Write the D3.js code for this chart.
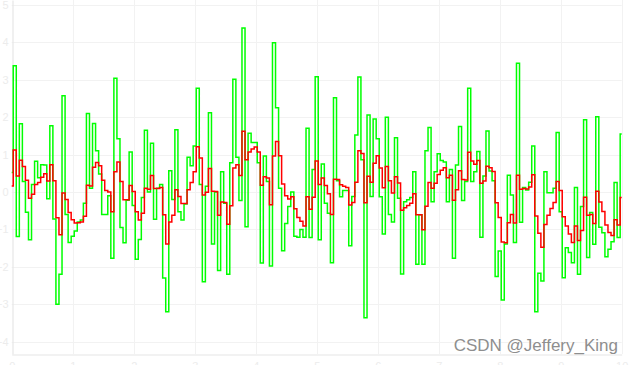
<!DOCTYPE html>
<html>
<head>
<meta charset="utf-8">
<script src="https://cdn.jsdelivr.net/npm/d3@7"></script>
<style>
  html, body { margin: 0; padding: 0; background: #ffffff; overflow: hidden; }
  svg { display: block; }
</style>
</head>
<body>
<svg id="chart" width="633" height="365"></svg>
<script>
// ---- data ----
const sampleStep = 0.05;           // x spacing of samples
const xTicks = [0, 1, 2, 3, 4, 5, 6, 7, 8, 9, 10];
const yTicks = [-4, -3, -2, -1, 0, 1, 2, 3, 4, 5];

// raw measurements (green step line)
const measured = [
  0.52, 3.37, -1.19, 1.82, 0.28, -0.54, -1.28, 0.2, 0.82, 0.38,
  0.73, 0.72, -0.18, 1.77, -0.72, -3.0, -2.2, 2.57, -0.6, -1.35,
  -1.18, -1.04, -0.8, -0.75, -0.3, 2.1, 0.1, 1.83, 1.1, 0.48,
  -0.6, -0.6, -0.1, -1.77, 3.04, 1.42, -0.95, -1.36, -0.22, 1.07,
  -0.36, -1.8, -1.27, -0.15, 1.65, 0.0, 1.3, -0.73, 0.1, 0.2,
  -2.3, -3.2, 0.57, -0.2, 1.66, -0.53, -0.75, -0.32, 0.93, 0.7,
  1.23, 2.77, 0.2, -2.4, 0.15, 2.12, -1.39, 0.0, -2.1, 0.54,
  -0.3, -2.2, 0.78, 3.01, 0.93, -0.23, 4.38, -0.93, 1.57, 1.32,
  1.32, 0.78, -1.9, 0.96, 0.28, -1.98, 3.99, 2.25, 0.1, -1.57,
  -0.84, -0.39, 0.0, -1.18, -1.21, -1.0, -1.21, 1.7, -1.22, 0.6,
  3.08, -1.28, 0.75, -0.3, -0.57, -1.89, 2.52, 0.3, -0.13, 0.04,
  0.04, -1.44, -0.12, 1.52, 3.07, 0.86, -3.36, 2.06, -0.12, 1.95,
  1.42, -0.13, -1.12, 2.0, -0.6, -0.8, 1.45, -0.17, -2.19, -0.26,
  -0.21, -0.15, 0.54, -1.93, -0.61, -1.93, 1.1, 1.72, -0.26, 0.54,
  1.02, 0.84, 0.8, -0.26, 0.6, -1.77, 0.72, 1.75, -0.23, 0.28,
  2.77, 0.28, 0.54, 1.08, -1.21, 0.43, 1.63, 0.56, 0.3, -2.26,
  -1.58, -2.89, -1.39, 0.45, -0.08, -1.35, 3.44, -0.81, 0.12, 0.05,
  0.26, 1.23, -3.2, -2.17, -2.38, 0.54, -0.02, -0.02, 0.1, 1.59,
  -0.53, -2.29, -1.49, -1.62, -1.89, 0.12, -2.2, -0.39, 1.93, -1.75,
  -0.55, -1.4, 2.01, -0.94, -1.09, -1.73, -1.53, -1.33, 0.25, -1.22,
  1.55
];

// filtered estimate (red step line)
const filtered = [
  0.16, 1.12, 0.43, 0.85, 0.68, 0.31, -0.17, -0.06, 0.20, 0.25,
  0.39, 0.49, 0.29, 0.73, 0.30, -0.69, -1.14, -0.03, -0.20, -0.55,
  -0.74, -0.83, -0.82, -0.80, -0.65, 0.18, 0.16, 0.66, 0.79, 0.70,
  0.31, 0.04, 0.00, -0.53, 0.54, 0.80, 0.28, -0.21, -0.21, 0.17,
  0.01, -0.53, -0.75, -0.57, 0.10, 0.07, 0.44, 0.09, 0.09, 0.12,
  -0.61, -1.39, -0.80, -0.62, 0.06, -0.12, -0.31, -0.31, 0.06, 0.25,
  0.54, 1.21, 0.91, -0.08, -0.01, 0.63, 0.02, 0.01, -0.62, -0.27,
  -0.28, -0.86, -0.37, 0.64, 0.73, 0.44, 1.62, 0.86, 1.07, 1.15,
  1.20, 1.07, 0.18, 0.41, 0.37, -0.34, 0.96, 1.35, 0.97, 0.21,
  -0.10, -0.19, -0.13, -0.45, -0.68, -0.78, -0.91, -0.13, -0.46, -0.14,
  0.83, 0.20, 0.37, 0.17, -0.05, -0.60, 0.34, 0.33, 0.19, 0.15,
  0.12, -0.35, -0.28, 0.26, 1.10, 1.03, -0.29, 0.42, 0.26, 0.77,
  0.97, 0.64, 0.11, 0.68, 0.30, -0.03, 0.41, 0.24, -0.49, -0.42,
  -0.36, -0.30, -0.05, -0.61, -0.61, -1.01, -0.38, 0.25, 0.10, 0.23,
  0.47, 0.58, 0.65, 0.38, 0.45, -0.22, 0.06, 0.57, 0.33, 0.32,
  1.06, 0.83, 0.74, 0.84, 0.23, 0.29, 0.69, 0.65, 0.55, -0.29,
  -0.68, -1.34, -1.36, -0.82, -0.60, -0.83, 0.45, 0.07, 0.09, 0.08,
  0.13, 0.46, -0.64, -1.10, -1.48, -0.87, -0.62, -0.44, -0.28, 0.28,
  0.04, -0.66, -0.91, -1.12, -1.35, -0.91, -1.30, -1.03, -0.14, -0.62,
  -0.60, -0.84, 0.02, -0.27, -0.52, -0.88, -1.08, -1.16, -0.74, -0.88,
  -0.15
];

const watermark = "CSDN @Jeffery_King";

// ---- layout ----
const W = 633, H = 365;
const plot = { left: 11.7, right: 621.7, top: 0, bottom: 354 };

const svg = d3.select("#chart");

const x = d3.scaleLinear().domain([0, 10]).range([plot.left, plot.right]);
const y = d3.scaleLinear().domain([-4.33, 5.13]).range([plot.bottom, plot.top]);

// grid
const grid = svg.append("g").attr("class", "grid");
grid.selectAll("line.h").data(yTicks).enter().append("line")
  .attr("x1", plot.left).attr("x2", plot.right)
  .attr("y1", d => Math.round(y(d)) + 0.5).attr("y2", d => Math.round(y(d)) + 0.5)
  .attr("stroke", "#f2f2f2").attr("stroke-width", 1);
grid.selectAll("line.v").data(xTicks.filter(d => d > 0)).enter().append("line")
  .attr("y1", plot.top).attr("y2", plot.bottom)
  .attr("x1", d => Math.round(x(d)) + 0.5).attr("x2", d => Math.round(x(d)) + 0.5)
  .attr("stroke", "#f2f2f2").attr("stroke-width", 1);

// axes
const yAxis = d3.axisLeft(y).tickValues(yTicks).tickSize(0).tickPadding(4).tickFormat(d3.format("d"));
const xAxis = d3.axisBottom(x).tickValues(xTicks).tickSize(0).tickPadding(8).tickFormat(d3.format("d"));

const gy = svg.append("g").attr("transform", `translate(${Math.round(plot.left) + 0.5},0)`).call(yAxis);
const gx = svg.append("g").attr("transform", `translate(0,${plot.bottom + 0.5})`).call(xAxis);
[gx, gy].forEach(g => {
  g.select(".domain").attr("stroke", "#e6e6e6").attr("stroke-width", 1.2);
  g.selectAll("text").attr("fill", "#ececec")
    .style("font-family", "'Liberation Sans', Arial, sans-serif").style("font-size", "11px");
});

// lines
const idx = measured.map((_, i) => i);
const stepLine = arr => d3.line()
  .x(i => x(i * sampleStep))
  .y(i => y(arr[i]))
  .curve(d3.curveStep)(idx);

svg.append("path")
  .attr("d", stepLine(measured))
  .attr("fill", "none")
  .attr("stroke", "#00ff00")
  .attr("stroke-width", 1.5)
  .attr("stroke-linejoin", "miter");

svg.append("path")
  .attr("d", stepLine(filtered))
  .attr("fill", "none")
  .attr("stroke", "#ff0000")
  .attr("stroke-width", 1.5)
  .attr("stroke-linejoin", "miter");

// watermark
svg.append("text")
  .attr("x", 618).attr("y", 351)
  .attr("text-anchor", "end")
  .attr("fill", "#8e8e8e")
  .attr("stroke", "#ffffff").attr("stroke-width", 0.6).attr("paint-order", "stroke")
  .style("font-family", "'Liberation Sans Narrow', 'Liberation Sans', Arial, sans-serif")
  .style("font-size", "17px")
  .text(watermark);
</script>
</body>
</html>
